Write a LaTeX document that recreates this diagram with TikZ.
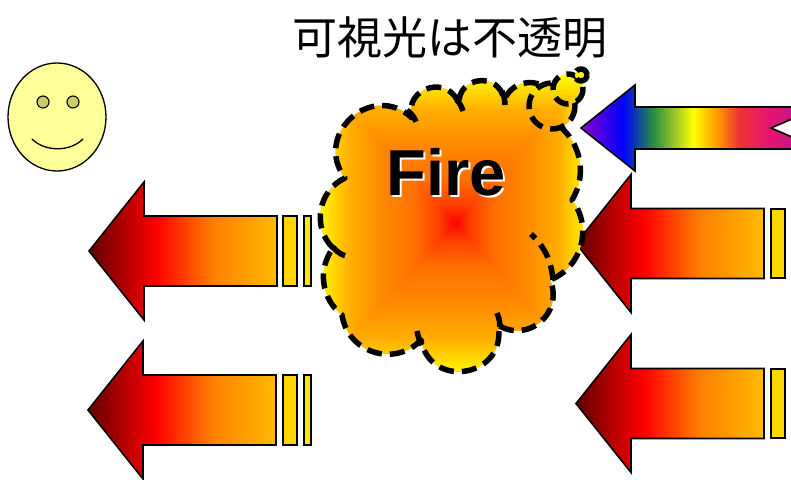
\documentclass[tikz,border=0pt]{standalone}
\usepackage{fontspec}
\setmainfont{Liberation Sans}
\newfontfamily\jpfont{Noto Sans CJK JP}
\definecolor{ffffzz}{rgb}{1,1,0.6}
\definecolor{ccccww}{rgb}{0.8,0.8,0.4}
\definecolor{wwqqqq}{rgb}{0.38,0,0}
\definecolor{ffqqqq}{rgb}{1,0,0}
\definecolor{ffyqqq}{rgb}{1,0.5,0}
\definecolor{ffbbqq}{rgb}{1,0.73,0}
\definecolor{ffdxqq}{rgb}{1,0.84,0}
\definecolor{ffewqq}{rgb}{1,0.9,0}
\definecolor{ffuwqq}{rgb}{1,0.25,0}
\definecolor{ffxyqq}{rgb}{1,0.44,0}
\definecolor{ffyxqq}{rgb}{1,0.54,0}
\definecolor{ffaqqq}{rgb}{1,0.68,0}
\definecolor{fffqqq}{rgb}{1,0.96,0}
\definecolor{ycqqcc}{rgb}{0.55,0,0.8}
\definecolor{qqqqff}{rgb}{0,0,1}
\definecolor{swycuq}{rgb}{0.15,0.55,0.25}
\definecolor{awccsw}{rgb}{0.65,0.8,0.15}
\definecolor{ffffqq}{rgb}{1,1,0}
\definecolor{ffzzqq}{rgb}{1,0.6,0}
\definecolor{eetttt}{rgb}{0.93,0.2,0.2}
\definecolor{ewruxt}{rgb}{0.9,0.08,0.45}
\definecolor{zzrazz}{rgb}{0.6,0.1,0.6}
\pgfdeclarehorizontalshading{heat}{100bp}{color(0bp)=(wwqqqq); color(25bp)=(wwqqqq); color(43bp)=(ffqqqq); color(58bp)=(ffyqqq); color(75bp)=(ffbbqq); color(100bp)=(ffbbqq)}
\pgfdeclarehorizontalshading{spectrum}{100bp}{color(0bp)=(ycqqcc); color(25bp)=(ycqqcc); color(33.8bp)=(qqqqff); color(40bp)=(swycuq); color(45bp)=(awccsw); color(48.5bp)=(ffffqq); color(53.5bp)=(ffzzqq); color(58bp)=(eetttt); color(64.5bp)=(ewruxt); color(75bp)=(zzrazz); color(100bp)=(zzrazz)}
\pgfdeclareverticalshading{flame}{100bp}{color(0bp)=(ffqqqq); color(25bp)=(ffqqqq); color(31bp)=(ffuwqq); color(40bp)=(ffxyqq); color(52bp)=(ffyxqq); color(64bp)=(ffaqqq); color(70bp)=(ffdxqq); color(75bp)=(fffqqq); color(100bp)=(fffqqq)}
\newcommand{\cloudpath}{(333,248) to[bend left=55,looseness=1.08] (345,178) to[bend left=85,looseness=1.55] (412,118) to[bend left=90,looseness=1.7] (459,105) to[bend left=88,looseness=1.65] (504,100) to[bend left=90,looseness=1.7] (558,125) to[bend left=42,looseness=0.98] (572,200) to[bend left=53,looseness=1.06] (550,280) to[bend left=73,looseness=1.32] (498,325) to[bend left=90,looseness=1.7] (421,340) to[bend left=64,looseness=1.18] (342,315) to[bend left=44,looseness=1] (333,248) -- cycle}
\newcommand{\flamefill}{%
\shade[shading=flame] (320,78) -- (588,78) -- (455,222) -- cycle;
\shade[shading=flame,shading angle=180] (320,372) -- (588,372) -- (455,222) -- cycle;
\shade[shading=flame,shading angle=90] (320,78) -- (320,372) -- (455,222) -- cycle;
\shade[shading=flame,shading angle=-90] (588,78) -- (588,372) -- (455,222) -- cycle;}
\begin{document}
\begin{tikzpicture}[line cap=round,line join=round,x=1pt,y=-1pt,
blockarrow/.style={draw=black,line width=1.6pt,line join=miter},
barstyle/.style={draw=black,line width=1.5pt,line join=miter},
cloudedge/.style={draw=black,line width=5.5pt,line cap=butt,dash pattern=on 15pt off 8pt}]
\useasboundingbox (0,0) rectangle (791,479);
%\draw [color=black!20] (0,0) grid[step=50] (791,479);
\draw [line width=1.3pt,fill=ffffzz] (57,117) ellipse [x radius=49,y radius=54];
\draw [line width=1.1pt,fill=ccccww] (43,102) circle (6);
\draw [line width=1.1pt,fill=ccccww] (73,102) circle (6);
\draw [line width=1.3pt] (32,139) .. controls (45,152) and (70,152) .. (83,139);
\foreach \tx/\ty in {89/251,88/410,576/243.5,576/403.5}
\shade[blockarrow,shading=heat,shift={(\tx,\ty)}] (0,0) -- (55,-69) -- (55,-35) -- (188,-35) -- (188,35) -- (55,35) -- (55,69) -- cycle;
\foreach \ty in {251,410} {
\filldraw[barstyle,fill=ffdxqq] (283,\ty-35) rectangle (297,\ty+35);
\filldraw[barstyle,fill=ffewqq] (304,\ty-35) rectangle (311,\ty+35);
}
\foreach \ty in {243.5,403.5}
\filldraw[barstyle,fill=ffdxqq] (771,\ty-34.5) rectangle (785,\ty+34.5);
\begin{scope}
\clip (0,0) rectangle (791,479);
\shade[blockarrow,shading=spectrum] (581,128) -- (635,85) -- (635,107) -- (820,107) -- (771,128) -- (820,149) -- (635,149) -- (635,171) -- cycle;
\end{scope}
\fill [color=ffyxqq] \cloudpath;
\begin{scope}
\clip \cloudpath;
\flamefill
\end{scope}
\draw [cloudedge] \cloudpath;
\draw [cloudedge] (333,247) to[bend right=20] (350,257);
\draw [cloudedge] (407,110) to[bend left=15] (417,124);
\draw [cloudedge] (457,100) to[bend left=10] (463,111);
\draw [cloudedge] (502,91) to[bend left=10] (505,105);
\draw [cloudedge] (553,280) to[bend right=20] (531,234);
\draw [cloudedge] (497,313) to[bend left=10] (500,327);
\draw [cloudedge] (417,331) to[bend right=10] (423,347);
\foreach \cx/\cy/\r in {552/106/23,568/89/15,581/75/6} {
\begin{scope}
\fill [color=fffqqq] (\cx,\cy) circle (\r);
\clip (\cx,\cy) circle (\r);
\flamefill
\end{scope}
\draw [cloudedge] (\cx,\cy) circle (\r);
}
\node[anchor=base,font=\bfseries\fontsize{65}{65}\selectfont] (firelbl) at (446,195) {\rlap{\hspace{2pt}\raisebox{-2pt}{\color{white}Fire}}Fire};
\node[anchor=base,font=\jpfont\fontsize{45}{45}\selectfont] (title) at (450,54) {可視光は不透明};
\end{tikzpicture}
\end{document}
